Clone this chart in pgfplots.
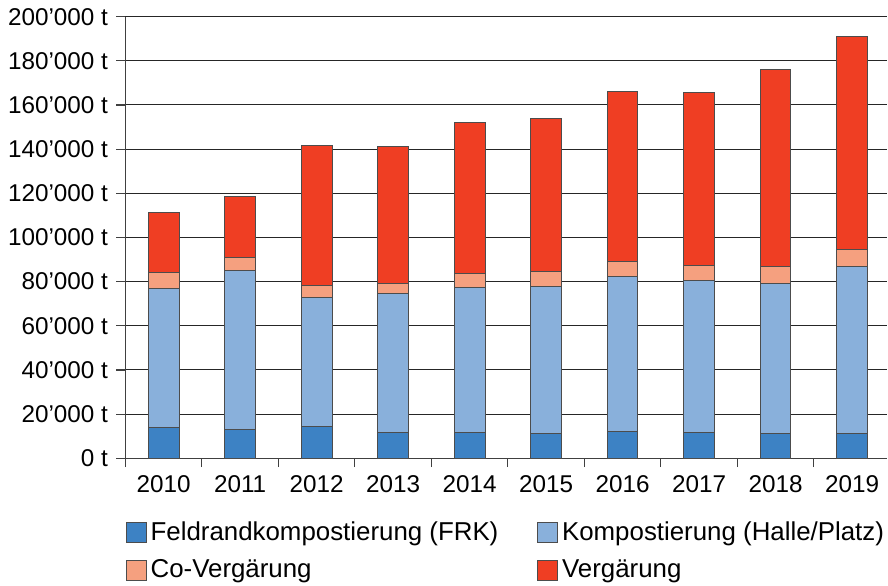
\documentclass[border=0pt]{standalone}
\usepackage{fontspec}
\setmainfont{Liberation Sans}
\usepackage{pgfplots}
\usepackage{pgfplotstable}
\pgfplotsset{compat=1.18}

\definecolor{frk}{HTML}{3D82C4}
\definecolor{komp}{HTML}{89B0DB}
\definecolor{cov}{HTML}{F5A07F}
\definecolor{verg}{HTML}{EF3E23}

% values in 1000 t
\pgfplotstableread{
x  frk   komp  cov  verg
0  13.9  62.9  7.5  27.1
1  13.1  72.1  5.9  27.3
2  14.3  58.6  5.4  63.3
3  11.5  63.0  4.8  61.9
4  11.6  65.6  6.3  68.7
5  11.0  66.7  7.1  69.2
6  12.2  69.9  6.9  77.1
7  11.6  69.1  6.8  78.1
8  11.2  67.8  8.0  89.3
9  11.2  75.8  7.4  96.6
}\data

\begin{document}
\fontsize{12.2}{14}\selectfont
\begin{tikzpicture}
\begin{axis}[
  scale only axis, width=383pt, height=222pt,
  ybar stacked, bar width=15.5pt,
  xmin=-0.5, xmax=9.46, ymin=0, ymax=200,
  axis x line=bottom, axis y line=left,
  axis line style={-, black!75, line width=0.6pt},
  tick align=outside, major tick length=4.5pt, minor tick length=4.5pt,
  tick style={black!75, line width=0.6pt},
  xtick={0,...,9},
  xticklabels={2010,2011,2012,2013,2014,2015,2016,2017,2018,2019},
  major x tick style={draw=none},
  minor xtick={-0.5,0.5,...,9.5},
  ytick={0,20,...,200},
  yticklabels={0 t,20’000 t,40’000 t,60’000 t,80’000 t,100’000 t,120’000 t,140’000 t,160’000 t,180’000 t,200’000 t},
  ymajorgrids, grid style={black!85, line width=0.5pt},
  every axis plot/.append style={draw=black!70, line width=0.5pt},
  legend image code/.code={\draw[#1, draw=black!70] (0pt,-5pt) rectangle (10pt,5pt);},
  legend columns=2,
  legend style={at={(0,0)}, anchor=north west, yshift=-29.5pt, draw=none,
    inner sep=0pt, font=\fontsize{13}{15}\selectfont, cells={anchor=west},
    row sep=4pt,
    /tikz/every even column/.append style={column sep=17.5pt}},
]
\addplot[fill=frk] table[x=x, y=frk] {\data};
\addlegendentry{Feldrandkompostierung (FRK)}
\addplot[fill=komp] table[x=x, y=komp] {\data};
\addlegendentry{Kompostierung (Halle/Platz)}
\addplot[fill=cov] table[x=x, y=cov] {\data};
\addlegendentry{Co-Vergärung}
\addplot[fill=verg] table[x=x, y=verg] {\data};
\addlegendentry{Vergärung}
\end{axis}
\end{tikzpicture}
\end{document}
